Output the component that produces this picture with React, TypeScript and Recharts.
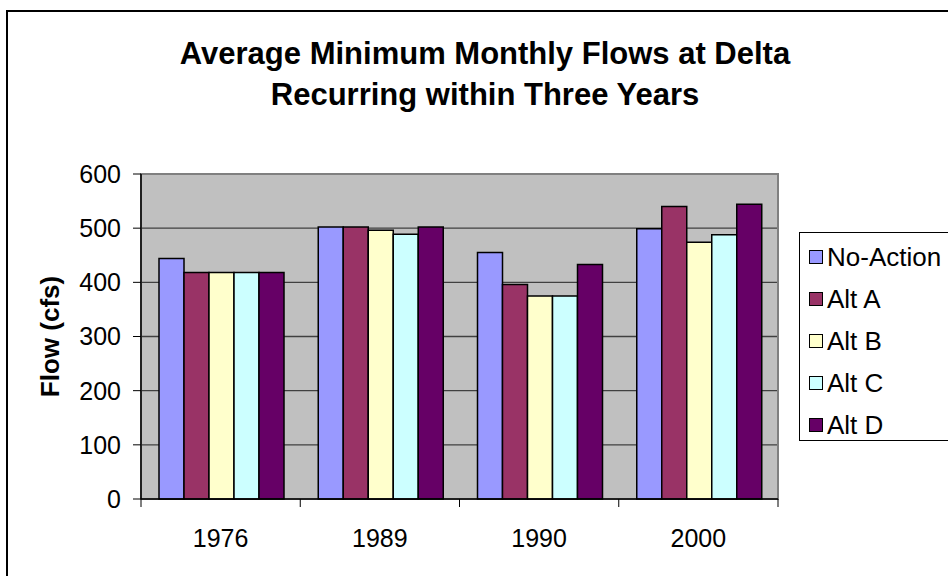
import React from 'react';
import { BarChart, Bar, XAxis, YAxis, CartesianGrid, Legend, ReferenceArea } from 'recharts';

const years = ['1976', '1989', '1990', '2000'];
const noAction = [444, 502, 455, 499];
const altA = [418, 502, 396, 540];
const altB = [418, 496, 375, 474];
const altC = [418, 489, 375, 488];
const altD = [418, 502, 433, 544];
const yTicks = [0, 100, 200, 300, 400, 500, 600];

const seriesInfo = [
  { key: 'noAction', name: 'No-Action', color: '#9999FF' },
  { key: 'altA', name: 'Alt A', color: '#993366' },
  { key: 'altB', name: 'Alt B', color: '#FFFFCC' },
  { key: 'altC', name: 'Alt C', color: '#CCFFFF' },
  { key: 'altD', name: 'Alt D', color: '#660066' },
];

const data = years.map((year, i) => ({
  year,
  noAction: noAction[i],
  altA: altA[i],
  altB: altB[i],
  altC: altC[i],
  altD: altD[i],
}));

const W = 948;
const H = 576;
const Y_AXIS_W = 141;
const RIGHT = 170;
const PLOT_W = W - Y_AXIS_W - RIGHT;
const BAND = PLOT_W / years.length;
const FONT = '"Liberation Sans", Arial, sans-serif';

// x ticks: Excel-style marks between categories, label in the middle
const YearTick = (props: any) => {
  const { x, y, payload, index } = props;
  const last = index === years.length - 1;
  return (
    <g>
      <line x1={x - BAND / 2} x2={x - BAND / 2} y1={y} y2={y + 8} stroke="#000" strokeWidth={1} />
      {last && <line x1={x + BAND / 2} x2={x + BAND / 2} y1={y} y2={y + 8} stroke="#000" strokeWidth={1} />}
      <text x={x} y={y + 48} textAnchor="middle" fontSize={25} fontFamily={FONT} fill="#000">
        {payload.value}
      </text>
    </g>
  );
};

const FlowLabel = (props: any) => {
  const { viewBox } = props;
  const cx = viewBox.x + 50;
  const cy = viewBox.y + viewBox.height / 2;
  return (
    <text
      x={cx}
      y={cy}
      transform={`rotate(-90 ${cx} ${cy})`}
      textAnchor="middle"
      dominantBaseline="central"
      fontSize={26}
      fontWeight="bold"
      fontFamily={FONT}
      fill="#000"
    >
      Flow (cfs)
    </text>
  );
};

const LegendBox = () => (
  <div
    style={{
      border: '1.5px solid #000',
      background: '#fff',
      width: 200,
      height: 209,
      boxSizing: 'border-box',
      paddingTop: 3,
      fontFamily: FONT,
      fontSize: 26,
      color: '#000',
    }}
  >
    {seriesInfo.map(s => (
      <div key={s.key} style={{ height: 42, display: 'flex', alignItems: 'center' }}>
        <span
          style={{
            display: 'inline-block',
            width: 14,
            height: 14,
            marginLeft: 9,
            marginRight: 4,
            background: s.color,
            border: '1.5px solid #000',
            boxSizing: 'border-box',
          }}
        />
        <span>{s.name}</span>
      </div>
    ))}
  </div>
);

export default function App() {
  return (
    <div style={{ position: 'absolute', left: 0, top: 0, width: W, height: H, overflow: 'hidden', background: '#fff' }}>
      <div
        style={{
          position: 'absolute',
          left: 6,
          top: 10,
          width: W + 20,
          height: H + 20,
          border: '2px solid #000',
          boxSizing: 'border-box',
        }}
      />
      <div
        style={{
          position: 'absolute',
          left: 0,
          width: 970,
          top: 33,
          textAlign: 'center',
          fontFamily: FONT,
          fontWeight: 'bold',
          fontSize: 31,
          lineHeight: '41px',
          color: '#000',
        }}
      >
        Average Minimum Monthly Flows at Delta
        <br />
        Recurring within Three Years
      </div>
      <div style={{ position: 'absolute', left: 0, top: 0 }}>
        <BarChart
          width={W}
          height={H}
          data={data}
          margin={{ top: 174, right: RIGHT, bottom: 27, left: 0 }}
          barCategoryGap={18}
          barGap={0}
        >
          <CartesianGrid fill="#C0C0C0" fillOpacity={1} stroke="#404040" strokeWidth={1.3} vertical={false} />
          <ReferenceArea y1={0} y2={600} fill="none" stroke="#808080" strokeWidth={2} ifOverflow="visible" />
          <XAxis
            dataKey="year"
            height={50}
            tickLine={false}
            tickSize={0}
            tickMargin={0}
            axisLine={{ stroke: '#000', strokeWidth: 1.5 }}
            tick={<YearTick />}
            interval={0}
          />
          <YAxis
            width={Y_AXIS_W}
            domain={[0, 600]}
            ticks={yTicks}
            interval={0}
            tickSize={8}
            tickMargin={12}
            axisLine={{ stroke: '#000', strokeWidth: 1.5 }}
            tickLine={{ stroke: '#000' }}
            tick={{ fontSize: 25, fontFamily: FONT, fill: '#000' }}
            label={<FlowLabel />}
          />
          <Legend
            layout="vertical"
            align="center"
            verticalAlign="middle"
            content={<LegendBox />}
            wrapperStyle={{ left: 799, top: 232, width: 'auto' }}
          />
          {seriesInfo.map(s => (
            <Bar
              key={s.key}
              dataKey={s.key}
              name={s.name}
              fill={s.color}
              stroke="#000"
              strokeWidth={1.5}
              isAnimationActive={false}
            />
          ))}
        </BarChart>
      </div>
    </div>
  );
}
